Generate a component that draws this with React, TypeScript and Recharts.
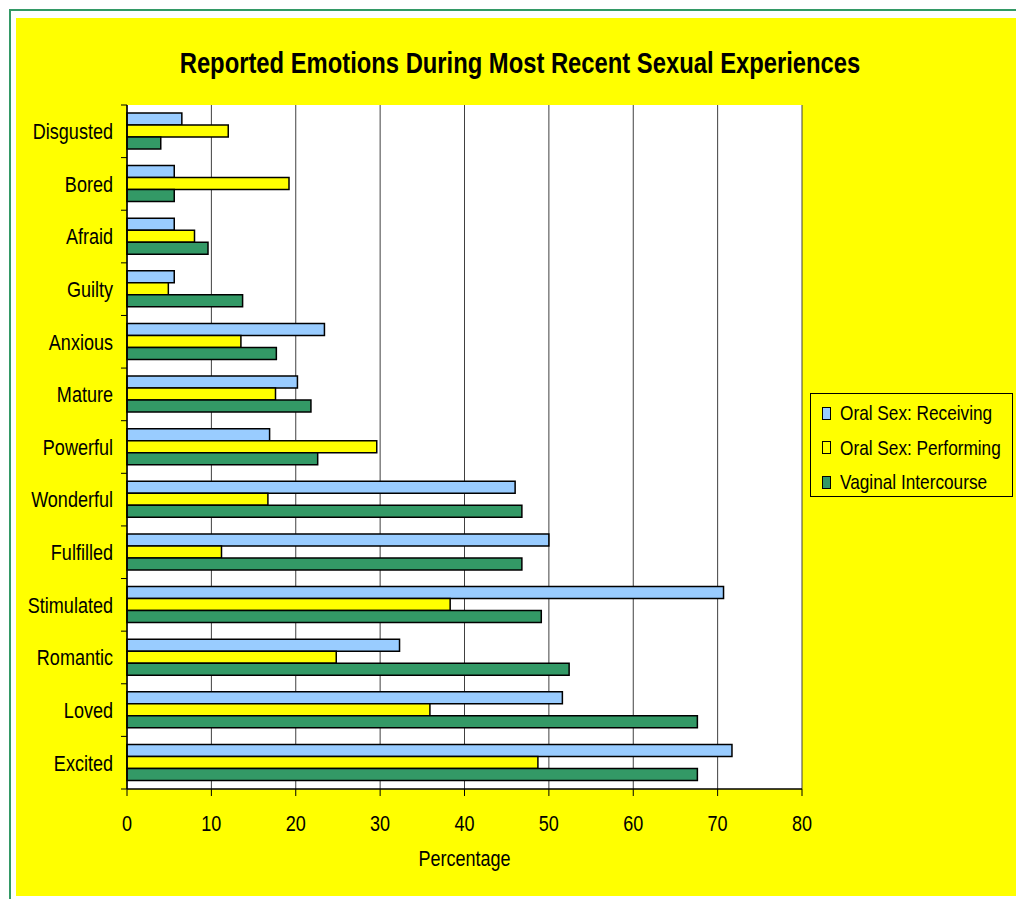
import {
  BarChart,
  Bar,
  XAxis,
  YAxis,
  CartesianGrid,
  Legend,
} from "recharts";

const emotions = [
  "Disgusted",
  "Bored",
  "Afraid",
  "Guilty",
  "Anxious",
  "Mature",
  "Powerful",
  "Wonderful",
  "Fulfilled",
  "Stimulated",
  "Romantic",
  "Loved",
  "Excited",
];

const seriesNames = ["Oral Sex: Receiving", "Oral Sex: Performing", "Vaginal Intercourse"];
const seriesColors = ["#99ccff", "#ffff00", "#339966"];

const oralReceiving = [6.5, 5.6, 5.6, 5.6, 23.4, 20.2, 16.9, 46.0, 50.0, 70.7, 32.3, 51.6, 71.7];
const oralPerforming = [12.0, 19.2, 8.0, 4.9, 13.5, 17.6, 29.6, 16.7, 11.2, 38.3, 24.8, 35.9, 48.7];
const vaginalIntercourse = [4.0, 5.6, 9.6, 13.7, 17.7, 21.8, 22.6, 46.8, 46.8, 49.1, 52.4, 67.6, 67.6];

const percentTicks = [0, 10, 20, 30, 40, 50, 60, 70, 80];

const data = emotions.map((emotion, i) => ({
  emotion,
  [seriesNames[0]]: oralReceiving[i],
  [seriesNames[1]]: oralPerforming[i],
  [seriesNames[2]]: vaginalIntercourse[i],
}));

const FONT = '"Liberation Sans", Arial, sans-serif';
// narrow look: squeeze regular glyphs horizontally
const SQUEEZE = 0.82;

function NarrowText(props: any) {
  const { x, y, anchor, dy, size, bold, children } = props;
  return (
    <text
      transform={`translate(${x},${y}) scale(${SQUEEZE},1)`}
      dy={dy}
      textAnchor={anchor}
      fontFamily={FONT}
      fontSize={size}
      fontWeight={bold ? "bold" : "normal"}
      fill="#000"
    >
      {children}
    </text>
  );
}

// category label plus Excel-style tick marks on the band edges
function EmotionTick(props: any) {
  const { x, y, payload, index } = props;
  const half = payload.offset ?? 26;
  return (
    <g>
      <NarrowText x={x} y={y} dy="0.355em" anchor="end" size={22}>
        {payload.value}
      </NarrowText>
      <line x1={x + 8} x2={x + 14} y1={y - half} y2={y - half} stroke="#000" />
      {index === emotions.length - 1 && (
        <line x1={x + 8} x2={x + 14} y1={y + half} y2={y + half} stroke="#000" />
      )}
    </g>
  );
}

function PercentTick(props: any) {
  const { x, y, payload } = props;
  return (
    <NarrowText x={x} y={y} dy="0.71em" anchor="middle" size={22}>
      {payload.value}
    </NarrowText>
  );
}

function AxisTitle(props: any) {
  const vb = props.viewBox || {};
  return (
    <NarrowText x={vb.x + vb.width / 2} y={vb.y + vb.height - 13} anchor="middle" size={22}>
      Percentage
    </NarrowText>
  );
}

function LegendBox(props: any) {
  const items = [...(props.payload || [])].sort(
    (a: any, b: any) => seriesNames.indexOf(a.value) - seriesNames.indexOf(b.value)
  );
  return (
    <div
      style={{
        width: 203,
        height: 104,
        boxSizing: "border-box",
        border: "1px solid #000",
        background: "#ffff00",
        paddingTop: 2,
        fontFamily: FONT,
        fontSize: 21,
        color: "#000",
      }}
    >
      {items.map((item: any) => (
        <div
          key={item.value}
          style={{ display: "flex", alignItems: "center", height: 34.5, whiteSpace: "nowrap" }}
        >
          <span
            style={{
              display: "inline-block",
              flex: "0 0 auto",
              boxSizing: "border-box",
              width: 9,
              height: 13,
              marginLeft: 11,
              marginRight: 9,
              border: "1px solid #000",
              background: item.color || seriesColors[seriesNames.indexOf(item.value)],
            }}
          />
          <span
            style={{
              display: "inline-block",
              transform: `scaleX(${SQUEEZE})`,
              transformOrigin: "left center",
            }}
          >
            {item.value}
          </span>
        </div>
      ))}
    </div>
  );
}

export default function App() {
  return (
    <div
      style={{
        position: "absolute",
        left: 0,
        top: 0,
        width: 1016,
        height: 899,
        background: "#fff",
        overflow: "hidden",
      }}
    >
      <div
        style={{
          position: "absolute",
          left: 9,
          top: 9,
          width: 1020,
          height: 900,
          borderLeft: "2px solid #339966",
          borderTop: "2px solid #339966",
        }}
      />
      <div
        style={{
          position: "absolute",
          left: 16,
          top: 18,
          width: 1000,
          height: 878,
          background: "#ffff00",
        }}
      >
        <div
          style={{
            position: "absolute",
            left: 0,
            top: 30,
            width: 1008,
            lineHeight: "30px",
            textAlign: "center",
            whiteSpace: "nowrap",
            fontFamily: FONT,
            fontWeight: "bold",
            fontSize: 29,
            color: "#000",
            transform: `scaleX(${SQUEEZE})`,
            transformOrigin: "504px center",
          }}
        >
          Reported Emotions During Most Recent Sexual Experiences
        </div>
        <BarChart
          width={1000}
          height={878}
          data={data}
          layout="vertical"
          margin={{ top: 87, right: 214, left: 11, bottom: 17 }}
          barSize={12}
          barGap={0}
        >
          <CartesianGrid
            horizontal={false}
            stroke="#404040"
            fill="#ffffff"
            fillOpacity={1}
          />
          <XAxis
            type="number"
            domain={[0, 80]}
            ticks={percentTicks}
            interval={0}
            height={90}
            tickSize={7}
            tickMargin={19}
            axisLine={{ stroke: "#000", strokeWidth: 1.5 }}
            tickLine={{ stroke: "#000" }}
            tick={<PercentTick />}
            label={<AxisTitle />}
          />
          <XAxis
            xAxisId="top"
            orientation="top"
            type="number"
            domain={[0, 80]}
            height={0}
            tick={false}
            tickLine={false}
            axisLine={{ stroke: "#808080" }}
          />
          <YAxis
            type="category"
            dataKey="emotion"
            width={100}
            tickSize={6}
            tickMargin={8}
            interval={0}
            tickLine={false}
            axisLine={{ stroke: "#000", strokeWidth: 1.5 }}
            tick={<EmotionTick />}
          />
          <YAxis
            yAxisId="right"
            orientation="right"
            type="category"
            dataKey="emotion"
            width={0}
            tick={false}
            tickLine={false}
            axisLine={{ stroke: "#808080" }}
          />
          <Legend
            layout="horizontal"
            align="center"
            verticalAlign="middle"
            wrapperStyle={{ left: 794, top: 375, width: 203, height: 104 }}
            content={<LegendBox />}
          />
          {seriesNames.map((name, i) => (
            <Bar
              key={name}
              dataKey={name}
              fill={seriesColors[i]}
              stroke="#000"
              strokeWidth={1.5}
              isAnimationActive={false}
            />
          ))}
        </BarChart>
      </div>
    </div>
  );
}
